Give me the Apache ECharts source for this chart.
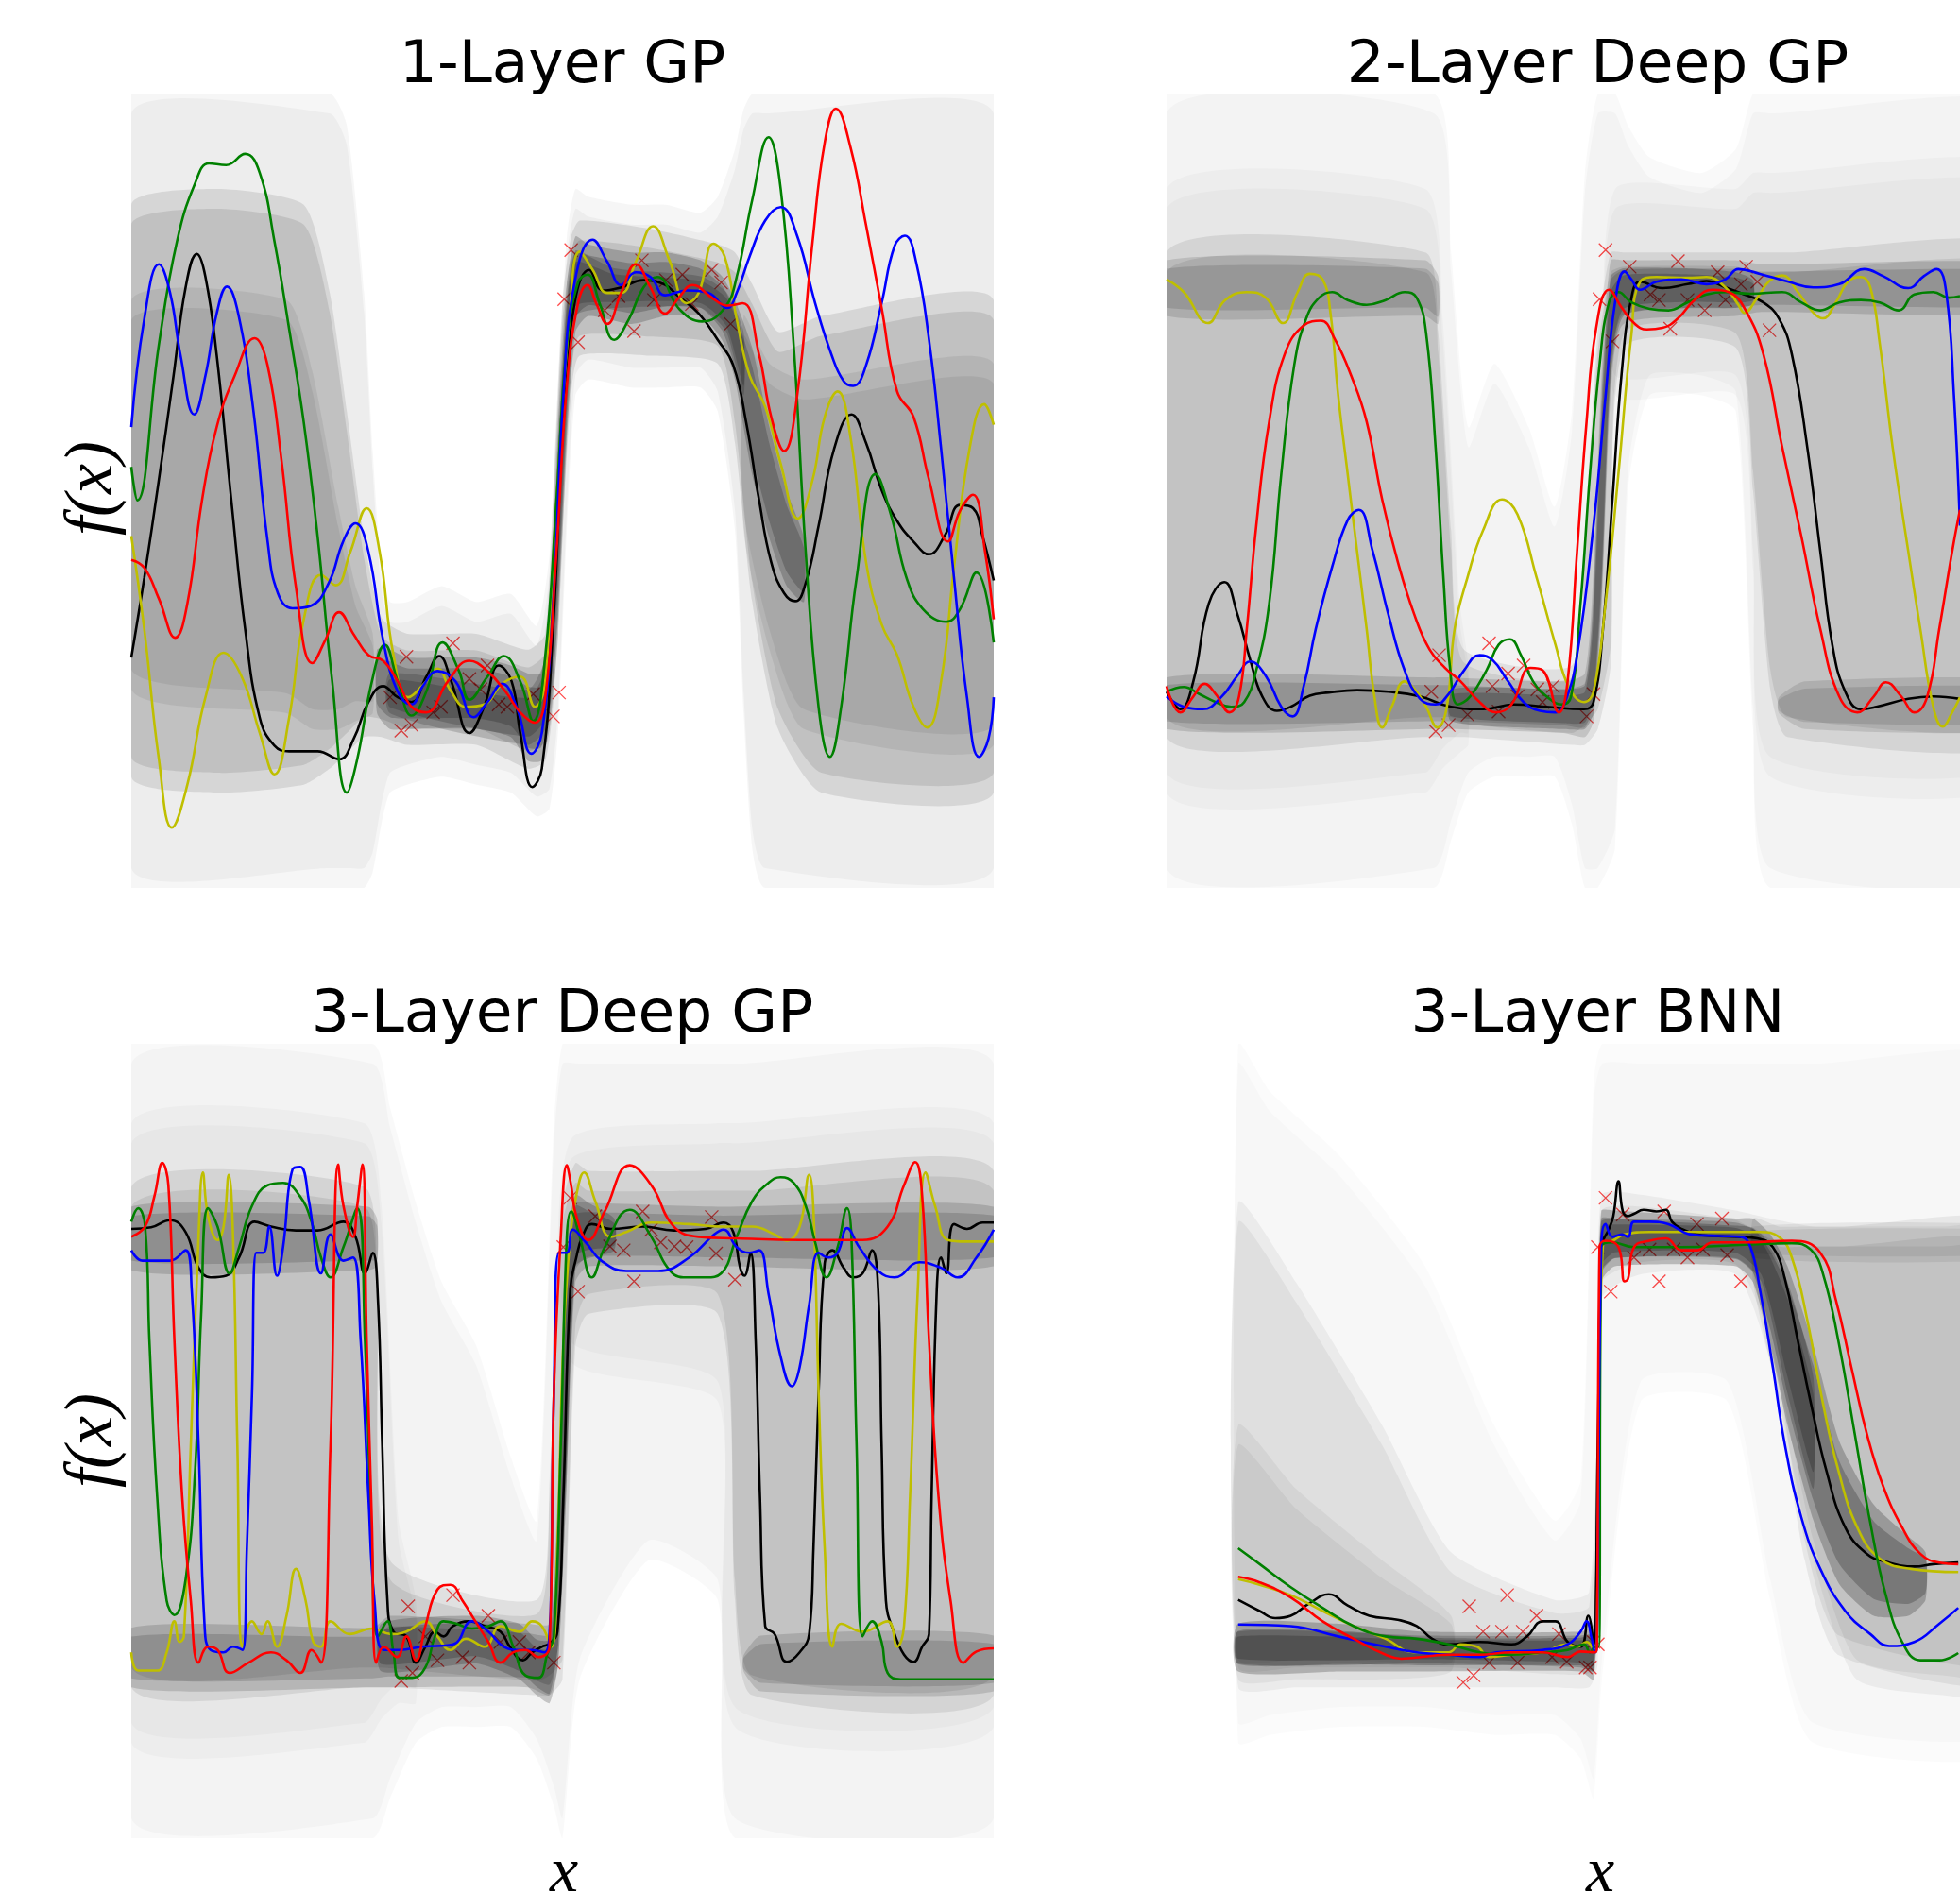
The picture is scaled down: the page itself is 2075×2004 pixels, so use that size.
<!DOCTYPE html>
<html><head><meta charset="utf-8">
<script src="https://cdn.jsdelivr.net/npm/echarts@6/dist/echarts.min.js"></script>
<style>html,body{margin:0;padding:0;background:#fff}#c{width:2075px;height:2004px}</style>
</head><body><div id="c"></div>
<script>
// ---------- text ----------
const titles = ['1-Layer GP', '2-Layer Deep GP', '3-Layer Deep GP', '3-Layer BNN'];
const yLabel = 'f(x)';
const xLabel = 'x';

// ---------- panel 1 : 1-Layer GP ----------
const p1Black = [[0,29],[1.5,39],[3.2,51.4],[4.9,64.5],[6.3,75.6],[7.6,79.8],[8.6,76.9],[9.9,67.1],[11.6,48.8],[13.2,32.6],[14.9,21.4],[16.6,17.9],[18.3,17.2],[21.6,17.2],[24.1,16.2],[25.8,18.8],[27.5,23.4],[29.2,25.4],[30.9,24],[32.5,23.4],[34.2,26.6],[35.7,29.2],[37.1,26],[39.2,19.5],[40.9,22.8],[42.6,28],[44.1,26],[45.1,19.5],[46.5,12.7],[47.6,15],[48.9,32.6],[50.1,58.7],[51.4,73.6],[53.1,77.8],[54.7,75.2],[56.8,75.6],[59.4,76.5],[61.9,75.9],[63.3,74.6],[65.8,72.3],[68,69],[69.8,65.8],[71.3,58.6],[72.8,48.8],[74.2,41],[75.7,37.1],[77,36.1],[78.2,38.4],[79.7,45.6],[81.5,55.3],[83.5,59.6],[85.2,56],[87,50.1],[88.8,46.2],[90.7,43.6],[92.5,42],[94.3,44.3],[96.1,48.2],[97.6,47.8],[98.7,44.3],[100,38.7]];
const p1Yellow = [[0,44.3],[1.5,32.6],[3.2,16.2],[4.7,7.6],[6.5,13],[8.6,24],[10.7,29.6],[12.8,26.6],[14.9,19.5],[16.6,14.3],[18.3,21.4],[20,33.8],[22,39.4],[23.7,38.1],[25.4,42.3],[27.3,47.8],[28.8,42.3],[30.4,29.3],[32.1,24],[34.2,26],[35.5,27.6],[37.1,24.7],[38.8,22.8],[40.9,23.1],[43,25.7],[45.1,26.6],[46.8,22.8],[48,26],[49.3,48.8],[50.8,71.6],[52,80.1],[53.5,77.8],[55.2,74.9],[56.8,74.9],[58.5,78.8],[60.5,83.3],[62.4,79],[64.4,73.6],[65.8,74.9],[67.5,81.1],[68.8,79.5],[70.2,71.6],[71.7,64.5],[73.5,60.6],[75.3,53.4],[77.3,46.5],[79,51.4],[80.4,59.3],[81.9,62.5],[83.4,56.7],[85.2,41],[87,33.2],[88.8,29.3],[90.7,22.8],[92.3,20.2],[93.9,26],[95.4,40.4],[97.2,55.3],[98.9,60.9],[100,58.3]];
const p1Green = [[0,53],[0.7,48.8],[3.2,68.4],[5.3,81.4],[7.4,88.7],[9,91.2],[11,91],[13.2,92.4],[14.9,90],[16.6,81.4],[18.3,70.4],[20,58.6],[21.6,44.3],[23.3,26],[25,12],[26.2,16.2],[27.9,26],[29.4,30.6],[30.9,26],[32.5,21.7],[34.2,24.7],[36.1,30.9],[38,27.3],[39.2,23.7],[41.3,26.6],[43.2,29.2],[45.1,26],[46.6,21],[48,29.2],[49.3,48.8],[50.5,68.4],[51.8,76.2],[52.9,77.2],[54.3,73.6],[56,69],[57.7,71.6],[59.4,75.6],[61,76.9],[63.6,72.8],[66.2,71.3],[68.8,73],[70.2,76.9],[72,86.6],[73.9,94.5],[75.3,88],[76.8,68.4],[78.2,42.3],[79.7,22.7],[81,16.5],[82.3,22.7],[84.1,39],[86.3,52.1],[88.1,46.9],[89.9,39],[91.8,35.1],[94.5,33.5],[96.1,35.1],[98,39.7],[100,30.9]];
const p1Blue = [[0,58],[1.5,71.6],[3.2,78.5],[4.5,74.9],[5.7,67.1],[7.3,59.6],[8.6,64.5],[9.9,72.3],[11.1,75.7],[12.4,72.3],[14.1,60.6],[15.8,43.7],[17,37.1],[18.7,35.2],[20.8,35.5],[22.9,38.4],[24.6,43.7],[26,45.9],[27.5,42.3],[29.2,31.2],[30.9,24.7],[32.5,23.1],[33.8,25.4],[35.5,27.3],[37.6,26],[39.7,21.5],[41.3,23.4],[43,25.7],[44.7,22.7],[46.4,16.9],[47.6,19.5],[48.9,35.8],[50.1,61.9],[51.4,76.2],[53.5,81.6],[55.2,78.8],[56.8,75.9],[58.5,77.5],[60.2,76.9],[61.9,74.6],[64.4,75.2],[66.9,74.9],[69.1,73],[70.2,74.9],[71.7,79.5],[73.5,84],[75.3,85.7],[77.2,82.1],[79.3,73.6],[81.2,67.1],[82.6,63.8],[83.7,63.2],[85.2,65.8],[87,73.6],[88.5,80.8],[89.7,82.1],[91,78.8],[92.5,69],[93.9,55.3],[95.4,39],[96.9,24],[98.3,16.5],[99.4,18.8],[100,24]];
const p1Red = [[0,41.3],[1.5,40.3],[3.2,36.4],[5.1,31.5],[6.5,35.8],[8.2,48.8],[9.9,58],[12,64.5],[14.3,69.2],[15.8,65.8],[17.4,54],[19.1,37.8],[21,28.3],[22.5,31.2],[24.1,34.7],[25.8,31.9],[27.5,29.3],[29.2,28.6],[30.9,26],[32.5,22.8],[34.2,22.1],[36.7,26],[39.2,28.6],[41.3,27.3],[43.4,24.7],[45.1,22.1],[46.8,20.8],[48,24],[49.3,42.3],[50.5,63.2],[51.8,73.6],[52.9,75.9],[53.9,73.6],[55.2,71],[56.8,74.9],[58.5,78.5],[60.2,75.6],[61.9,72.3],[63.5,74.3],[65.1,75.9],[67.3,74.3],[69.1,73.3],[70.9,73.6],[72.8,67.1],[74.2,59.3],[75.7,55],[77.2,61.9],[79,81.4],[80.4,93.8],[81.7,98.1],[83.4,93.2],[85.2,83.4],[87,73],[88.8,62.5],[90.7,59.3],[92.5,51.4],[94.7,43.6],[96.1,47.5],[97.6,49.5],[99,42.3],[100,33.8]];
const p1Data = [[51,80.3],[50.2,74.1],[51.8,68.7],[54.9,72.7],[56.5,74.5],[58.3,70.1],[59.2,79],[60.6,74],[62,76.5],[63.9,77.2],[65,73.5],[67.3,77.8],[68.4,76.2],[69.5,71],[30,24],[31.3,19.8],[31.9,29.1],[32.5,20.5],[35,22.1],[35.9,22.8],[37.3,30.8],[39.2,26.3],[40.5,25],[41.3,28],[42.6,23.1],[43.6,22.8],[46.6,24.4],[48.9,21.6],[49.6,24.6]];
// sample-cloud envelopes: [x, lower, upper]
const p1Outer = [[0,0,100],[23,0,100],[25,0,96],[27,0,75],[28,2,55],[29,8,40],[30,12,36],[32,13,36],[36,14,38],[40,13,36],[44,12,37],[47,9,33],[48.5,10,42],[49.5,20,62],[50.5,45,82],[51.5,62,88],[53,64,87],[58,63,86],[62,63,86],[66,63,85],[68,60,87],[70,45,93],[71,22,98],[72,5,100],[73.5,0,100],[100,0,100]];
const p1Mid = [[0,14,86],[10,12,88],[20,13,86],[23,15,75],[25,17,60],[27,19,44],[29,19,34],[32,18,32],[40,18,32],[46,15,30],[48,16,32],[49,24,52],[50,45,74],[51,62,82],[52,67,84],[60,67,83],[68,66,81],[70,56,80],[72,36,76],[75,20,70],[80,12,72],[100,12,74]];
const p1MidL = [[0,25,74],[18,22,74],[21,20,65],[24,20,48],[26,21,38],[28,22,32]];
const p1MidR = [[71,45,72],[74,30,66],[78,20,64],[100,18,66]];
const p1Core = [[28.5,22,30],[30,20,30],[32,20,29],[40,20,29],[44,19,28],[46,16,27],[47.5,16,27],[48.5,20,34],[49.5,32,58],[50.5,56,76],[51.5,70,82],[53,72,81],[58,71,80],[62,72,80],[66,72,79],[68.5,69,77],[70,64,74],[72,52,68],[74,44,58],[76,38,50],[78,36,44]];
const p1Core2 = [[30,22,27],[46,18,25],[48,20,29],[49.5,38,55],[50.5,60,74],[51.5,72,80],[56,73,78],[66,73,77],[69,70,75],[71,62,70]];

// ---------- panel 2 : 2-Layer Deep GP ----------
const p2Black = [[0,24.7],[1.6,22.5],[3.1,26],[4.9,35.8],[6.7,38.5],[8.2,34.5],[9.7,28.7],[11.1,24.1],[12.8,22.3],[14.4,22.8],[16.6,24.2],[18.8,24.6],[22.1,24.9],[25.7,24.7],[29.4,24.1],[33,22.8],[36.7,22.5],[40.3,23.1],[44,22.8],[48.4,22.5],[49.5,23.4],[50.6,32.6],[51.7,48.9],[52.8,65.2],[53.9,74.3],[54.9,76.3],[57.5,75.5],[60.4,76],[62.6,76.4],[64.8,75.6],[67,74.7],[69.2,73.7],[71,71.7],[72.5,67.2],[74.3,55.4],[75.8,42.4],[77.2,30.6],[78.7,24.7],[80.5,22.5],[82.3,22.8],[86,23.8],[88.9,24.1],[92,23.8]];
const p2Yellow = [[0,76.6],[2,75],[4.8,71.1],[6.8,74],[9.3,75],[11.5,74.3],[13.5,71.1],[15.2,75],[16.6,77.3],[18.1,76.6],[19,72.4],[19.9,62],[21,52.1],[22.1,42.3],[23.2,32.6],[24.1,24.1],[25,20.2],[26.1,22.8],[27.6,26],[29,24.7],[30.1,22.8],[31.4,20.2],[32.5,22.8],[33.4,32.6],[34.9,39.1],[36.7,45],[38.9,48.9],[40.7,47],[42.9,39.1],[45.1,30.6],[46.6,25.4],[48.4,23.4],[49.5,24.7],[50.9,35.8],[52.4,52.2],[53.9,69.7],[54.9,76.3],[56.8,76.9],[60.4,76.8],[62.6,76.9],[64.8,75.6],[66.3,73.4],[67,72.4],[68.5,74.3],[69.9,76.4],[71.4,77.1],[73.2,75],[75,72.4],[76.1,71.7],[77.6,73.7],[79,76.3],[80.5,76.9],[81.6,75.6],[82.7,68.5],[84.2,55.4],[86,42.4],[87.4,32.6],[88.9,22.8],[90,20.3],[91.1,22.1],[92,24]];
const p2Green = [[0,24.7],[2,25.3],[3.8,24.4],[5.7,23.4],[7.5,22.8],[9,23.4],[10.4,27.4],[11.9,35.8],[13.3,52.1],[14.8,65.8],[16.2,71.7],[17.7,74.3],[19.2,75],[21,74],[23.2,73.4],[25.4,74],[27.6,75],[29,74.3],[30.1,69.8],[31.2,55.4],[32.1,39.1],[32.9,27.4],[33.8,23.1],[35.2,24.1],[37.1,27.4],[38.5,30.6],[39.8,31.3],[41.1,29.3],[42.5,26],[44.2,24],[45.8,23.1],[46.9,24.1],[48,35.8],[49.1,52.2],[50.2,65.8],[51.3,73.7],[52.4,75],[53.9,73.7],[56,72.9],[58.2,72.7],[60.4,73.7],[62.6,74.7],[64.8,75],[67.7,74.8],[71.4,75],[73.6,73.7],[75.8,72.7],[78,73.7],[80.5,74],[82.7,73.7],[84.9,72.7],[86.7,74.7],[88.9,75],[90.7,74.3],[92,74.5]];
const p2Blue = [[0,24.1],[2,22.8],[4.2,22.5],[6.4,24.1],[8.2,26.7],[9.7,28.5],[11.5,26.7],[13.3,22.8],[14.6,21.6],[15.9,25.4],[17.3,32.6],[19.2,40.4],[21,46.3],[22.3,47.6],[23.9,42.4],[25.7,34.5],[27.6,27.4],[29.4,23.8],[31.2,23.1],[32.7,24.4],[34.5,27.4],[36.3,29.3],[37.8,28.7],[39.6,26],[41.4,23.4],[43.3,22.3],[45.1,22.1],[46.2,23.4],[47.6,29.3],[49.5,45.6],[50.9,61.9],[52,73.7],[53.1,77.6],[53.9,76.6],[54.9,75.3],[56.8,76.3],[59.7,76.6],[62.6,76],[64.8,76.6],[66.3,77.9],[68.8,77.3],[72.1,76.3],[75,75.6],[78,76],[80.9,77.9],[83.1,77],[86,75.5],[87.8,77],[89.3,77.9],[90.4,75],[91.3,62],[92,45.6]];
const p2Red = [[0,25.4],[1.6,22.1],[3.1,24.1],[4.4,25.7],[5.7,24.4],[7.3,22.1],[8.4,24.1],[9.3,32.6],[10.4,45.6],[11.9,58.7],[13.7,67.2],[15.9,70.8],[17.9,71.4],[19.5,69.1],[21.4,64.5],[23.2,58.7],[25,48.9],[26.8,41.1],[28.7,34.5],[30.5,30],[32.3,27.7],[34.1,26],[36.3,23.4],[38.2,22.1],[40,23.1],[42.2,27.7],[43.6,27.4],[45.5,22.1],[46.5,26],[47.6,42.4],[48.7,58.7],[49.8,70.4],[51.3,75.3],[52.8,73],[54.2,71.1],[55.7,70.3],[57.5,70.5],[59.3,71.7],[61.2,74],[63.3,75.3],[65.2,75],[67,73],[69.2,67.2],[71.4,55.4],[73.6,44.3],[75.8,32.6],[78,24.1],[80.1,22.1],[82,24.1],[83.4,25.9],[85.2,24.1],[86.7,22.1],[88.2,24.1],[89.6,32.6],[91.1,42.4],[92,47.6]];
const p2Data = [[31.6,29.3],[30.7,24.7],[31.2,19.7],[32.7,20.5],[34.9,21.8],[37.4,30.8],[37.8,25.4],[38.5,22.2],[39.6,27],[40.7,24.1],[41.4,28],[43,25],[43.6,23.4],[44.8,25.4],[48.7,21.6],[49.5,24.4],[50.9,80.3],[50.2,74.1],[51.7,68.8],[53.7,78.2],[56.1,74.7],[57.1,74],[58.4,70.4],[59.3,78.9],[60.4,74],[62.4,72.7],[63.9,77.5],[64.8,74],[66.6,76],[67.2,78.2],[68.5,76.3],[69.9,70.2]];
const p2Outer = [[0,0,100],[31,0,100],[33,6,80],[35,12,58],[38,14,66],[42,14,58],[45,14,48],[47,8,60],[48.5,0,90],[50,0,100],[52,5,100],[53.5,50,96],[56,62,92],[62,62,90],[66,60,93],[68,20,100],[70,0,100],[100,0,100]];
const p2HaloL = [[0,12,88],[30,12,88],[32,15,72],[34,17,36],[35,18,28]];
const p2HaloR = [[52,62,88],[66,62,88],[68,40,90],[70,14,90],[100,14,90]];
const p2Mid = [[0,19,80],[30,19,80],[31.5,19,70],[33,19,45],[34.5,19,30],[47,18,28],[48.5,18,45],[50,20,70],[51.5,28,80],[53,68,80],[66,68,80],[68,50,80],[70,25,80],[72,19,80],[100,19,80]];
const p2RidgeUL = [[0,72,79],[30,72,79],[31.5,71,77]];
const p2RidgeMain = [[0,20,26.5],[31,20,26.5],[33,20,26.5],[46,19.5,26],[48.5,19,27],[49.5,21,40],[50.5,36,66],[51.5,62,79],[53,71,79],[66,72,79],[69,72.5,78.5],[100,72.5,78.5]];
const p2RidgeLR = [[71,22,24],[74,20,26],[100,20,26]];
const p2Core = [[33,21,25],[46,20,25],[48.5,20,25.5],[49.5,22,36],[50.5,38,62],[51.5,64,77],[53,72,78],[60,73,78],[66,73,77.5],[68,73.5,76.5]];

// ---------- panel 3 : 3-Layer Deep GP ----------
const p3Black = [[0,76.7],[2.3,76.9],[4.5,77.8],[6.3,76.3],[7.8,71.8],[9.2,70.6],[11,70.8],[12.5,73.1],[14.3,77.6],[16.2,77],[19.1,76.5],[21.6,76.5],[24.6,77.6],[26,75.7],[27.1,71.1],[28,73.7],[28.6,67.8],[29.1,49.5],[29.7,29.9],[30.4,26],[31.9,25.4],[33,22.1],[34.1,24.1],[35.2,26],[36.2,25.4],[37.3,26.7],[39.2,27.3],[41,26.7],[42.8,26],[43.9,24.1],[45.4,22.4],[46.5,23.4],[47.6,24.1],[48.5,24.5],[49.4,26],[50.1,43],[50.9,69.1],[51.6,73.1],[52.3,75.7],[53.4,77.3],[55.6,76.7],[59.3,77],[62.9,76.5],[66.6,76.7],[68.7,77.5],[69.8,76.3],[70.6,71.8],[71.1,70.8],[71.8,73.7],[72.4,62.6],[72.9,43],[73.5,26.7],[74.6,25.7],[76,22.2],[77.5,23.4],[78.6,25.7],[79.1,36.5],[79.7,56.1],[80.4,72.4],[81.3,74],[82.6,71.8],[83.7,70.6],[84.8,71.1],[85.9,74],[86.6,69.1],[87,49.5],[87.5,29.9],[88.5,25.7],[89.6,23.1],[90.7,22.2],[91.7,24.1],[92.5,25.7],[92.8,43],[93.4,69.1],[93.9,73.1],[94.5,71.1],[95.4,77.3],[96.9,76.7],[98.7,77.5],[100,77.5]];
const p3Yellow = [[0,23.4],[0.8,21.1],[3,21.1],[4.1,23.4],[5,27.3],[5.6,24.7],[6.1,25.4],[6.9,49.5],[7.8,75.7],[8.3,83.8],[8.9,78.3],[10,75.3],[10.7,77],[11.3,83.5],[11.8,75.7],[12.3,49.5],[12.9,24.1],[14,27.3],[15.1,25.7],[15.8,27.3],[16.9,24.1],[18,28],[19.1,33.9],[20.2,30],[21.1,24.7],[22,24.1],[23.1,27.3],[25.3,25.7],[27.9,26.4],[30.1,25.7],[31.9,26],[34.1,27.3],[35.5,25.4],[37,23.7],[38.8,25.1],[41,24.1],[42.8,26.7],[45,26],[46.5,27.3],[47.6,26.7],[48.7,24.1],[49.4,36.5],[50.1,62.6],[50.9,75.7],[51.6,80.9],[52.5,83.8],[53.8,80.2],[55.6,75.7],[57.4,76.3],[60.3,77.5],[64.7,77.3],[68.4,77],[72,77],[74.6,76],[76,75.2],[77.5,77],[78.6,83.5],[79.1,79],[79.7,56.1],[80.4,36.5],[81.3,24.1],[82.3,27],[84.8,26],[87.7,27.3],[88.8,24.1],[89.6,26.7],[90.3,43],[91.2,69.1],[92.1,83.8],[93.2,79.6],[94.7,75.3],[96.9,75.1],[100,75.1]];
const p3Green = [[0,77.6],[0.8,79.3],[1.6,77],[2.1,62.6],[3,43],[4.1,29.9],[5,28.1],[6.3,32.6],[7.4,46.3],[8.1,65.9],[8.9,79.3],[10,77],[11.4,71.1],[12.5,74.4],[14,79.6],[15.8,82.2],[17.6,82.5],[19.5,80.9],[20.9,77.6],[22,73.1],[23.1,70.6],[24.6,74.4],[26.2,79.3],[27.1,62.6],[27.9,36.5],[28.6,25.4],[29.7,27.3],[30.4,23.4],[31.1,20.2],[32.6,20.2],[34.1,21.5],[35.2,25.4],[36.2,27.3],[37.7,27],[39.5,26.4],[41.4,26.7],[42.8,27.3],[44.3,24.1],[45.7,20.5],[47.2,20.2],[48.3,23.4],[49,25.4],[49.8,49.5],[50.5,75.7],[51,78.9],[52,75.7],[53.4,70.6],[54.9,74.4],[57.8,79.1],[60.3,75.7],[62.2,71.8],[64,70.6],[66.6,70.6],[68.4,71.1],[70.2,75.7],[72,80.2],[73.9,82.5],[75.3,83.2],[76.8,82.5],[78.2,79.6],[79.3,75],[80.6,70.6],[81.9,74.4],[83,79.3],[83.5,75.7],[84.1,49.5],[84.8,25.4],[85.9,27.3],[87,24.7],[87.7,20.8],[89.2,20],[93.9,20],[100,20]];
const p3Blue = [[0,74],[1.3,72.7],[4.5,72.7],[6.3,74],[7,69.1],[7.8,49.5],[8.5,26.7],[9.2,23.7],[10.7,23.4],[11.8,24.1],[12.9,23.7],[13.4,36.5],[14,56.1],[14.5,73.7],[15.3,73.7],[16,77],[16.9,70.8],[17.6,74.4],[18.7,84.2],[19.6,84.5],[20.6,80.2],[22,71.1],[23.1,76],[24.6,72.7],[25.7,73.1],[26.6,62.6],[27.5,43],[28.2,29.9],[29.3,23.7],[31.1,23.7],[33.7,24.1],[37.3,24.4],[39.5,27.3],[41.4,26],[43.2,24.1],[45,23.7],[46.5,23.7],[47.9,23.4],[48.5,26],[48.7,33.2],[49,56.1],[49.6,73.7],[50.5,73.7],[51.2,76.6],[52.7,75],[54.5,72.7],[57.4,71.4],[61.1,71.4],[64.7,73.1],[67.6,76],[68.7,76.6],[70.2,74.4],[71.7,73.7],[72.8,74],[73.9,68.5],[75.3,60.6],[76.6,56.9],[77.5,59.3],[78.6,67.2],[79.7,73.7],[80.8,73.1],[81.9,73.7],[83,76.8],[84.4,74.4],[86.6,71.4],[88.5,70.6],[91.4,72.5],[93.9,71.8],[95.8,70.6],[98,73.1],[100,76.6]];
const p3Red = [[0,75.7],[1.6,77],[2.7,80.9],[3.6,85],[4.3,82.2],[5,62.6],[5.9,43],[6.9,29.9],[7.8,22.1],[8.9,24.1],[10,23.7],[11.4,20.8],[13.6,22.1],[16.2,23.4],[18,22.4],[19.6,20.8],[20.9,23.7],[22,22.1],[23.1,49.5],[24,84.8],[24.6,79.6],[25.7,75.7],[26.2,79.6],[26.8,84.8],[27.3,62.6],[27.9,39.7],[28.4,22.1],[29.3,24.1],[30.8,22.8],[31.9,25.4],[33,22.4],[34.1,26.7],[35.5,31.3],[37,31.9],[38.4,29.9],[39.9,27.3],[41.4,24.7],[42.8,22.1],[44.3,23.4],[45.7,23.7],[47.2,22.8],[48.5,24.1],[49,56.1],[49.8,75.7],[50.5,84.7],[51,82.2],[51.6,78.3],[53,75.3],[54.9,78.9],[57.8,84.7],[60.3,82.2],[62.9,77],[65.8,75.7],[70.2,75.5],[77.5,75.3],[84.8,75.3],[87.7,77],[89.6,82.2],[90.9,85.1],[91.7,80.9],[92.5,62.6],[93.6,43],[95,29.9],[96.5,22.1],[98,23.5],[100,23.9]];
const p3Data = [[32.1,29.2],[31.3,19.8],[32.6,20.8],[34.1,25.4],[35.5,22.4],[37.3,30.6],[38.4,22.8],[39.2,22.1],[41.4,28],[42.8,24.7],[45,24.7],[46.1,23.4],[49,22.1],[50.9,80.6],[50.1,74.4],[51.8,68.8],[53.8,78.3],[55.5,74.5],[57.1,74],[58.3,70.1],[59.3,78.9],[60.3,76.6],[61.4,75],[63,74.5],[64.4,74.4],[67.3,78.2],[67.8,73.6],[70,70.3]];
const p3Outer = [[0,0,100],[28,0,100],[30,5,92],[33,12,80],[36,14,70],[40,14,62],[44,14,48],[47,10,40],[49,4,90],[50,0,100],[52,20,100],[60,35,100],[68,30,100],[70,0,100],[100,0,100]];
const p3HaloL = [[0,12,90],[27,12,90],[29,15,80],[31,17,40],[33,17,30]];
const p3HaloR = [[51,60,88],[68,55,90],[70,14,90],[100,14,90]];
const p3Mid = [[0,19,82],[27,19,82],[28.5,19,70],[30,19,35],[47,18,30],[48.5,18,45],[50,20,80],[51.5,62,85],[53,66,84],[68,66,84],[70,30,84],[72,18,84],[100,18,84]];
const p3RidgeUL = [[0,71.5,79.5],[27.5,71.5,79.5],[28.5,72,78]];
const p3RidgeMain = [[0,19,26.5],[28,19,26.5],[30,19,28],[46,19,27],[48.5,18,27],[49.5,22,45],[50.5,45,72],[51.5,70,80],[53,72,80],[68,72,79.5],[100,72,79.5]];
const p3RidgeLR = [[71,21,23],[73,18.5,25.5],[100,18.5,25.5]];
const p3Core = [[29,21,27],[40,22,28],[45,20,27],[47,18,25],[48.5,17,25],[49.5,22,40],[50.5,45,75],[51.5,72,81],[53,73,80],[56,74,78]];

// ---------- panel 4 : 3-Layer BNN ----------
const p4Black = [[8.3,30],[10.8,28.6],[12.6,27.7],[14.4,28],[16.6,29.6],[18.8,30.7],[21,29.3],[23.5,28],[26.8,27.5],[29,26.7],[30.8,25.1],[32.7,24.4],[36.3,24.7],[40,24.4],[41.8,25.4],[43.6,27.3],[45.1,27.3],[46.5,24.7],[48,24.1],[48.9,28],[49.5,24.5],[50,49.5],[50.4,74.4],[51.3,76.7],[51.8,78.3],[52.4,82.7],[52.9,78.9],[53.5,78.3],[54.2,78.6],[55.3,79.1],[56.8,78.9],[57.9,79.1],[58.6,77.6],[59.7,76.7],[61.5,76],[63.3,75.8],[66.3,75.7],[68.5,75.5],[70.3,74.4],[71.7,70.4],[73.2,62.6],[74.7,54.8],[76.5,46.3],[78.7,39.1],[81.2,35.8],[83.4,34.8],[86.7,34.2],[88.9,34.5],[91.8,34.7]];
const p4Yellow = [[8.3,32.6],[10.8,31.9],[14.4,30.6],[18.1,28.6],[21.7,26.7],[25.4,25.1],[28.7,23.4],[32.7,23.4],[34.1,24.4],[36,24.1],[37.4,22.8],[40,23.1],[43.6,23.4],[46.5,24.4],[47.6,24.1],[48.7,24.7],[49.7,23.7],[49.9,24.4],[50.2,56.1],[50.6,74.7],[51.7,75.2],[53.1,76],[56,76.3],[63.3,76.3],[68.8,76.3],[71,75.7],[72.5,73.1],[74.3,65.2],[76.1,54.8],[77.9,46.3],[80.1,39.1],[82.7,35.2],[86.3,33.9],[91.8,33.5]];
const p4Green = [[8.3,36.5],[10.8,34.5],[14.4,31.6],[18.1,29],[21.7,26.7],[25.4,25.4],[29,25.1],[32.7,24.4],[36.3,23.4],[40,23.1],[43.6,23.4],[46.5,23.7],[48.4,24.4],[49.1,23.4],[49.7,24.1],[50.1,24.1],[50.4,74.4],[51.7,75],[54.2,74.4],[59.7,74.4],[67,74.7],[72.5,74.9],[74.7,74.1],[76.1,71.1],[77.9,62.6],[79.8,50.9],[81.6,39.7],[83.4,30.6],[85.3,24.7],[87.4,22.4],[89.6,22.4],[91.8,23.3]];
const p4Blue = [[8.3,26.9],[14.4,26.7],[19.9,25.4],[25.4,24.1],[29,23.4],[32.7,23.1],[36.3,22.8],[38.2,23.4],[43.6,23.7],[46.5,24.4],[48,26],[48.7,27.3],[49.3,25.1],[49.7,23.4],[49.9,24.1],[50.4,74.4],[50.9,77.3],[51.7,75.7],[52.8,76],[53.5,75.7],[54.2,77.6],[56,77.6],[58.2,77.3],[60.8,76],[64.1,75.8],[66.6,75.7],[67.7,74.4],[68.8,69.1],[70.3,59.3],[71.7,49.5],[73.6,40.4],[75.8,33.9],[78.7,28.6],[81.6,25.7],[83.8,24.2],[86.7,24.7],[89.6,27],[91.8,29]];
const p4Red = [[8.3,32.9],[10.8,32.2],[14.4,30.3],[18.1,27.3],[21.7,25.1],[25.4,23.1],[27.2,22.6],[32.7,23.1],[36.3,23.1],[40,23.4],[43.6,23.4],[46.5,22.8],[48,23.5],[49.7,23.4],[49.9,24.1],[50.2,74.4],[50.9,75.2],[52.4,74.4],[53.1,70.1],[53.5,70.4],[54.2,74.4],[56,75.2],[57.9,75.5],[59.7,74],[61.5,74],[63.3,75],[67,75],[72.5,75.2],[75.8,73.7],[77.6,67.8],[79.4,59.3],[81.2,50.9],[83.1,44.3],[85.3,39.1],[87.4,35.8],[89.6,34.7],[91.8,34.5]];
const p4Data = [[35.1,29.2],[34.4,19.6],[35.6,20.5],[36.7,26],[37.4,22.1],[38.9,26],[39.5,30.6],[40.7,22.1],[41.3,26],[42.9,28],[44.7,22.8],[45.5,25.7],[46.4,22.2],[48.6,21.5],[49.1,21.5],[49.5,24.7],[50,24.4],[50.9,80.6],[50,74.4],[51.5,68.8],[52.9,78.5],[54.2,73.1],[56,74.1],[57.1,70.1],[57.7,78.9],[58.8,74.1],[60.4,73.1],[61.5,77.3],[62.2,74.1],[64.4,78],[65,73.4],[66.6,70.1]];
const p4Outer = [[8.3,12,100],[12,13,94],[20,14,86],[30,14,72],[38,13,52],[45,13,40],[48,10,45],[49.5,5,95],[50.5,20,100],[55,55,100],[65,55,100],[70,30,100],[75,12,100],[100,12,100]];
const p4Mid = [[8.3,19,80],[15,19,70],[25,19,52],[33,19,36],[45,19,30],[49,19,31],[50,22,60],[50.5,68,81],[55,71,81],[66,71,79],[70,60,78],[75,35,77],[80,20,77],[90,18,77],[100,18,77]];
const p4MidL = [[8.3,20,52],[15,20,44],[25,20,35],[33,21,28]];
const p4MidR = [[68,70,78],[71,55,77],[74,35,77],[78,23,77],[100,20,77]];
const p4Ridge = [[8.3,21,27],[20,21,27],[30,21,26],[48,21,26],[49.5,20,27],[50,30,60],[50.4,70,79],[52,72,79],[66,72,78],[68,70,78],[70,62,76],[72,52,72],[75,40,62],[78,32,50],[82,28,42],[86,28,38],[88,30,36]];
const p4RidgeR = [[68,73,77],[100,73,77]];
const p4Core = [[8.3,22,26],[30,22,25.5],[48,21.5,25.5],[49.5,21,26],[50,32,58],[50.4,71,78],[52,73,78],[66,73,77.5],[69,70,76],[72,56,70],[75,44,58]];

// ---------- assembly ----------
const colors = {k:'#000000', y:'#bfbf00', g:'#008000', b:'#0000ff', r:'#ff0000'};
const panels = [
  {xMax:100, lines:{k:p1Black,y:p1Yellow,g:p1Green,b:p1Blue,r:p1Red}, data:p1Data,
   bands:[[p1Outer,0.07],[p1Mid,0.18],[p1MidL,0.12],[p1MidR,0.12],[p1Core,0.35],[p1Core2,0.3]]},
  {xMax:92, lines:{k:p2Black,y:p2Yellow,g:p2Green,b:p2Blue,r:p2Red}, data:p2Data,
   bands:[[p2Outer,0.05],[p2HaloL,0.05],[p2HaloR,0.05],[p2Mid,0.15],[p2RidgeUL,0.22],[p2RidgeMain,0.24],[p2RidgeLR,0.2],[p2Core,0.35]]},
  {xMax:100, lines:{k:p3Black,y:p3Yellow,g:p3Green,b:p3Blue,r:p3Red}, data:p3Data,
   bands:[[p3Outer,0.05],[p3HaloL,0.05],[p3HaloR,0.05],[p3Mid,0.15],[p3RidgeUL,0.26],[p3RidgeMain,0.26],[p3RidgeLR,0.24],[p3Core,0.35]]},
  {xMax:92, lines:{k:p4Black,y:p4Yellow,g:p4Green,b:p4Blue,r:p4Red}, data:p4Data,
   bands:[[p4Outer,0.03],[p4Mid,0.09],[p4MidL,0.09],[p4MidR,0.12],[p4RidgeR,0.12],[p4Ridge,0.38],[p4Core,0.35]]}
];
// right-hand panels run off the right edge of the figure: only x <= 92 is visible
const gridBoxes = [
  {left:139, top:99, width:913, height:841},
  {left:1235, top:99, width:840, height:841},
  {left:139, top:1105, width:913, height:841},
  {left:1235, top:1105, width:840, height:841}
];

// each envelope is drawn as two stacked polygons (full + slightly inset) for a soft edge
function bandSeries(gi, band, alpha) {
  const a = 1 - Math.sqrt(1 - alpha);
  return {
    type:'custom', xAxisIndex:gi, yAxisIndex:gi, z:2, silent:true, clip:true,
    data:[[band[0][0], band[0][1]]],
    encode:{x:0, y:1},
    renderItem:function(params, api){
      const outer = [], inner = [];
      for (let i=0;i<band.length;i++) {
        const d = Math.min(2.5, (band[i][2]-band[i][1])*0.15);
        outer.push(api.coord([band[i][0], band[i][2]]));
        inner.push(api.coord([band[i][0], band[i][2]-d]));
      }
      for (let i=band.length-1;i>=0;i--) {
        const d = Math.min(2.5, (band[i][2]-band[i][1])*0.15);
        outer.push(api.coord([band[i][0], band[i][1]]));
        inner.push(api.coord([band[i][0], band[i][1]+d]));
      }
      const fill = 'rgba(0,0,0,'+a.toFixed(3)+')';
      return {type:'group', children:[
        {type:'polygon', shape:{points:outer, smooth:0.2}, style:{fill:fill}},
        {type:'polygon', shape:{points:inner, smooth:0.2}, style:{fill:fill}}
      ]};
    }
  };
}

const series = [];
panels.forEach((p, gi) => {
  series.push({
    type:'scatter', xAxisIndex:gi, yAxisIndex:gi, z:1, silent:true,
    symbol:'path://M0,0L10,10M10,0L0,10', symbolSize:14,
    itemStyle:{color:'rgba(0,0,0,0)', borderColor:'rgba(255,20,20,0.95)', borderWidth:1.3},
    data:p.data
  });
  p.bands.forEach(b => series.push(bandSeries(gi, b[0], b[1])));
  ['k','y','g','b','r'].forEach(c => {
    series.push({
      type:'line', xAxisIndex:gi, yAxisIndex:gi, z:3, silent:true,
      data:p.lines[c], showSymbol:false, symbol:'none',
      smooth:0.45,
      lineStyle:{color:colors[c], width:2.6}
    });
  });
});

const graphics = [];
const titlePos = [[595.5,71],[1691.5,71],[595.5,1076],[1691.5,1076]];
titles.forEach((t,i) => graphics.push({type:'text', x:titlePos[i][0], y:titlePos[i][1], silent:true,
  style:{text:t, fill:'#000', font:'63px "DejaVu Sans"', textAlign:'center', textVerticalAlign:'middle'}}));
[[99,517],[99,1525]].forEach(pos => graphics.push({type:'text', x:pos[0], y:pos[1], rotation:Math.PI/2, silent:true,
  style:{text:yLabel, fill:'#000', font:'italic 72px "Liberation Serif"', textAlign:'center', textVerticalAlign:'middle'}}));
[[597,1984],[1694,1984]].forEach(pos => graphics.push({type:'text', x:pos[0], y:pos[1], silent:true,
  style:{text:xLabel, fill:'#000', font:'italic 68px "Liberation Serif"', textAlign:'center', textVerticalAlign:'middle'}}));

const option = {
  animation:false,
  backgroundColor:'#ffffff',
  grid: gridBoxes,
  xAxis: panels.map((p,i) => ({type:'value', gridIndex:i, min:0, max:p.xMax, show:false})),
  yAxis: panels.map((p,i) => ({type:'value', gridIndex:i, min:0, max:100, show:false})),
  series: series,
  graphic: graphics
};
const chart = echarts.init(document.getElementById('c'), null, {renderer:'canvas', width:2075, height:2004});
chart.setOption(option);
</script></body></html>
